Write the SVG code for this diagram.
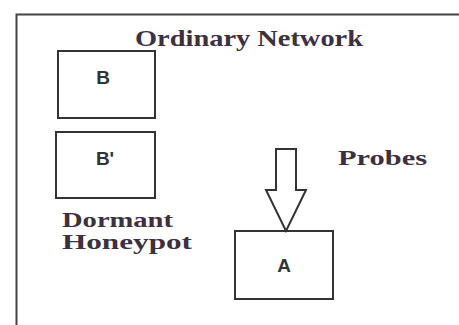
<svg xmlns="http://www.w3.org/2000/svg" width="459" height="325" viewBox="0 0 459 325">
<style>
.box{fill:#fff;stroke:#333;stroke-width:2}
.lbl{font-family:"Liberation Sans",Arial,sans-serif;font-weight:bold;font-size:19px;fill:#333;text-anchor:middle}
.ser{font-family:"Liberation Serif","Times New Roman",serif;font-weight:bold;fill:#3d3040}
</style>
<rect width="459" height="325" fill="#fff"/>
<g id="frame">
<path d="M16.5 325 V14.5 H459" fill="none" stroke="#444" stroke-width="2"/>
<text class="ser" x="135" y="46" font-size="24" textLength="228" lengthAdjust="spacingAndGlyphs">Ordinary Network</text>
</g>
<g id="nodeB">
<rect class="box" x="58" y="51" width="97" height="67"/>
<text class="lbl" x="103" y="84">B</text>
</g>
<g id="nodeBp">
<rect class="box" x="56" y="132" width="99" height="66"/>
<text class="lbl" x="105" y="165">B'</text>
<text class="ser" x="62" y="227" font-size="20" textLength="111" lengthAdjust="spacingAndGlyphs">Dormant</text>
<text class="ser" x="62" y="249" font-size="20" textLength="130" lengthAdjust="spacingAndGlyphs">Honeypot</text>
</g>
<g id="nodeA">
<rect class="box" x="235" y="231" width="98" height="68"/>
<text class="lbl" x="284" y="272">A</text>
</g>
<g id="probes">
<text class="ser" x="338" y="165" font-size="22" textLength="89" lengthAdjust="spacingAndGlyphs">Probes</text>
</g>
<g id="connectors">
<path d="M276 149 H296 V190 H306 L286 231 L266 190 H276 Z" fill="#fff" stroke="#333" stroke-width="2" stroke-linejoin="miter"/>
</g>
</svg>
